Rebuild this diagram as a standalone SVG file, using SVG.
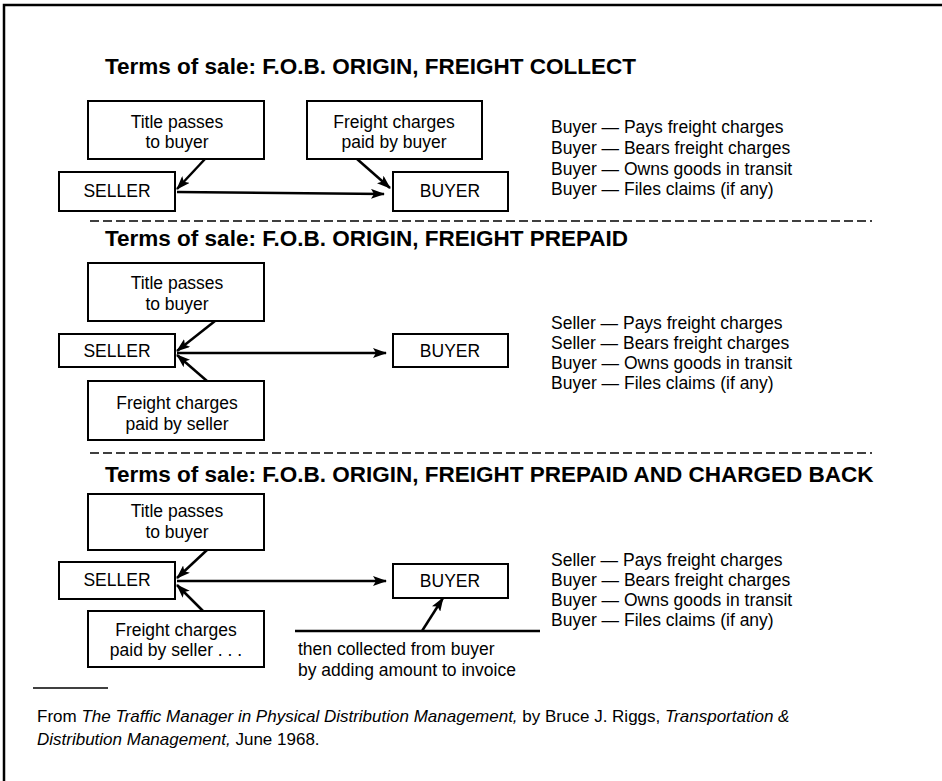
<svg xmlns="http://www.w3.org/2000/svg" width="942" height="781" viewBox="0 0 942 781">
<defs>
<marker id="ah" markerWidth="14" markerHeight="10" refX="13" refY="5" orient="auto" markerUnits="userSpaceOnUse">
<path d="M0,0 L14,5 L0,10 L3,5 Z" fill="#000"/>
</marker>
<style>
.box{fill:#fff;stroke:#000;stroke-width:2}
.t{font-family:"Liberation Sans",Arial,sans-serif;font-size:17.5px;fill:#000}
.c{text-anchor:middle}
.h{font-family:"Liberation Sans",Arial,sans-serif;font-size:22.5px;font-weight:bold;fill:#000}
.ln{stroke:#000;stroke-width:2.5;fill:none}
.ar{stroke:#000;stroke-width:2.5;fill:none;marker-end:url(#ah)}
.dash{stroke:#000;stroke-width:1.5;stroke-dasharray:9,4;fill:none}
.f{font-family:"Liberation Sans",Arial,sans-serif;font-size:17px;fill:#000}
</style>
</defs>
<rect width="942" height="781" fill="#fff"/>
<g id="frame"><path d="M4,781 V5 H942" class="ln" stroke-width="2"/></g>

<!-- Section 1 -->
<g id="sec1-title"><text class="h" x="105" y="74">Terms of sale: F.O.B. ORIGIN, FREIGHT COLLECT</text></g>
<g id="s1-title-box"><rect class="box" x="88" y="101" width="176" height="58"/><text class="t c" x="177" y="128">Title passes</text><text class="t c" x="177" y="148">to buyer</text></g>
<g id="s1-freight-box"><rect class="box" x="307" y="101" width="175" height="58"/><text class="t c" x="394" y="128">Freight charges</text><text class="t c" x="394" y="148">paid by buyer</text></g>
<g id="s1-seller"><rect class="box" x="59" y="172" width="116" height="39"/><text class="t c" x="117" y="197">SELLER</text></g>
<g id="s1-buyer"><rect class="box" x="393" y="172" width="115" height="39"/><text class="t c" x="450" y="197">BUYER</text></g>
<g id="s1-terms">
<text class="t" x="551" y="133">Buyer — Pays freight charges</text>
<text class="t" x="551" y="154">Buyer — Bears freight charges</text>
<text class="t" x="551" y="175">Buyer — Owns goods in transit</text>
<text class="t" x="551" y="195">Buyer — Files claims (if any)</text>
</g>
<path class="dash" d="M90,221 H872"/>

<!-- Section 2 -->
<g id="sec2-title"><text class="h" x="105" y="246">Terms of sale: F.O.B. ORIGIN, FREIGHT PREPAID</text></g>
<g id="s2-title-box"><rect class="box" x="88" y="263" width="176" height="58"/><text class="t c" x="177" y="289">Title passes</text><text class="t c" x="177" y="310">to buyer</text></g>
<g id="s2-seller"><rect class="box" x="59" y="334" width="116" height="33"/><text class="t c" x="117" y="357">SELLER</text></g>
<g id="s2-buyer"><rect class="box" x="393" y="334" width="115" height="33"/><text class="t c" x="450" y="357">BUYER</text></g>
<g id="s2-freight-box"><rect class="box" x="88" y="381" width="176" height="59"/><text class="t c" x="177" y="409">Freight charges</text><text class="t c" x="177" y="430">paid by seller</text></g>
<g id="s2-terms">
<text class="t" x="551" y="329">Seller — Pays freight charges</text>
<text class="t" x="551" y="349">Seller — Bears freight charges</text>
<text class="t" x="551" y="369">Buyer — Owns goods in transit</text>
<text class="t" x="551" y="389">Buyer — Files claims (if any)</text>
</g>
<path class="dash" d="M90,453 H872"/>

<!-- Section 3 -->
<g id="sec3-title"><text class="h" x="105" y="482">Terms of sale: F.O.B. ORIGIN, FREIGHT PREPAID AND CHARGED BACK</text></g>
<g id="s3-title-box"><rect class="box" x="88" y="494" width="176" height="56"/><text class="t c" x="177" y="517">Title passes</text><text class="t c" x="177" y="538">to buyer</text></g>
<g id="s3-seller"><rect class="box" x="59" y="562" width="116" height="37"/><text class="t c" x="117" y="586">SELLER</text></g>
<g id="s3-buyer"><rect class="box" x="393" y="564" width="115" height="34"/><text class="t c" x="450" y="587">BUYER</text></g>
<g id="s3-freight-box"><rect class="box" x="88" y="611" width="176" height="56"/><text class="t c" x="176" y="636">Freight charges</text><text class="t c" x="176" y="656">paid by seller . . .</text></g>
<g id="s3-collected"><text class="t" x="298" y="655">then collected from buyer</text><text class="t" x="298" y="676">by adding amount to invoice</text></g>
<g id="s3-terms">
<text class="t" x="551" y="566">Seller — Pays freight charges</text>
<text class="t" x="551" y="586">Buyer — Bears freight charges</text>
<text class="t" x="551" y="606">Buyer — Owns goods in transit</text>
<text class="t" x="551" y="626">Buyer — Files claims (if any)</text>
</g>

<g id="connectors">
<path class="ar" d="M205,159 L177,189"/>
<path class="ar" d="M177,192 L384,194"/>
<path class="ar" d="M357,159 L390,188"/>
<path class="ar" d="M215,321 L177,351"/>
<path class="ar" d="M207,381 L177,355"/>
<path class="ar" d="M177,353 L386,353"/>
<path class="ar" d="M207,550 L177,578"/>
<path class="ar" d="M203,611 L177,585"/>
<path class="ar" d="M177,581 L386,581"/>
<path class="ln" d="M295,631 H540"/>
<path class="ar" d="M422,631 L443,598"/>
</g>

<g id="footer">
<path d="M33,688 H108" stroke="#000" stroke-width="1.5"/>
<text class="f" x="37" y="722">From <tspan font-style="italic">The Traffic Manager in Physical Distribution Management,</tspan> by Bruce J. Riggs, <tspan font-style="italic">Transportation &amp;</tspan></text>
<text class="f" x="37" y="745"><tspan font-style="italic">Distribution Management,</tspan> June 1968.</text>
</g>
</svg>
